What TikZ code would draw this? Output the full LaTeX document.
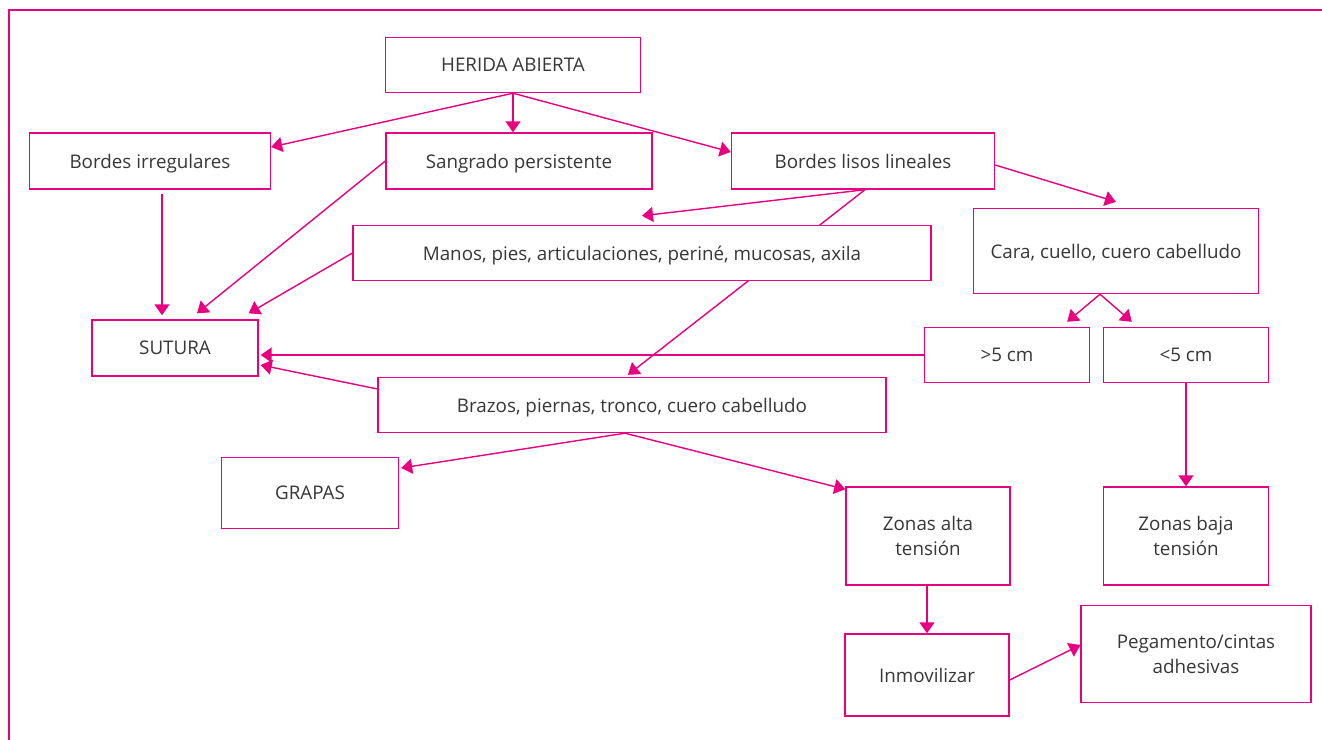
\documentclass[tikz,border=0pt]{standalone}
\usepackage{fontspec}
\setmainfont{Open Sans}
\usetikzlibrary{arrows.meta,backgrounds}

\definecolor{rosa}{RGB}{232,0,128}
\definecolor{texto}{RGB}{55,55,55}

\tikzset{
    box/.style={draw=rosa, fill=white, line width=0.8pt, text=texto, inner sep=0pt,
        align=center, font=\fontsize{10.7}{14}\selectfont},
    uno/.style={box, text depth=0pt},
    flecha/.style={draw=rosa, line width=0.8pt, -{Triangle[length=0.22cm,width=0.3cm]}}
}

\begin{document}
\begin{tikzpicture}[x=0.02cm, y=-0.02cm]
    \useasboundingbox (0,0) rectangle (1322,740);

    % Frame
    \draw[rosa, line width=0.8pt] (9,740) -- (9,10) -- (1322,10);

    % Boxes
    \node[uno, minimum width=5.1cm, minimum height=1.1cm] (herida) at (513,65) {HERIDA ABIERTA};
    \node[uno, minimum width=4.82cm, minimum height=1.12cm] (birreg) at (150,161) {Bordes irregulares};
    \node[uno, minimum width=5.32cm, minimum height=1.12cm] (sangrado) at (519,161) {Sangrado persistente};
    \node[uno, minimum width=5.26cm, minimum height=1.12cm] (blisos) at (863,161) {Bordes lisos lineales};
    \node[uno, minimum width=5.7cm, minimum height=1.7cm] (cara) at (1116,251) {Cara, cuello, cuero cabelludo};
    \node[uno, minimum width=11.56cm, minimum height=1.1cm] (manos) at (642,253) {Manos, pies, articulaciones, periné, mucosas, axila};
    \node[uno, minimum width=3.32cm, minimum height=1.12cm] (sutura) at (175,348) {SUTURA};
    \node[uno, minimum width=3.3cm, minimum height=1.1cm] (gt5) at (1007,355) {>5 cm};
    \node[uno, minimum width=3.3cm, minimum height=1.1cm] (lt5) at (1186,355) {<5 cm};
    \node[uno, minimum width=10.16cm, minimum height=1.1cm] (brazos) at (632,405) {Brazos, piernas, tronco, cuero cabelludo};
    \node[uno, minimum width=3.54cm, minimum height=1.42cm] (grapas) at (310,493) {GRAPAS};
    \node[box, minimum width=3.28cm, minimum height=1.96cm] (zalta) at (928,536) {Zonas alta\\tensión};
    \node[box, minimum width=3.3cm, minimum height=1.96cm] (zbaja) at (1186,536) {Zonas baja\\tensión};
    \node[uno, minimum width=3.28cm, minimum height=1.64cm] (inmov) at (927,675) {Inmovilizar};
    \node[box, minimum width=4.6cm, minimum height=1.94cm] (pegam) at (1196,654) {Pegamento/cintas\\adhesivas};

    % Arrows (behind the boxes)
    \begin{scope}[on background layer]
        \draw[flecha] (herida.south) -- ([yshift=0.28cm]birreg.east);
        \draw[flecha] (herida.south) -- (herida.south |- sangrado.north);
        \draw[flecha] (herida.south) -- ([yshift=0.18cm]blisos.west);
        \draw[flecha] ([xshift=0.24cm,yshift=-0.08cm]birreg.south) -- ([xshift=0.24cm,yshift=0.08cm]birreg.south |- sutura.north);
        \draw[flecha] (sangrado.west) -- ([xshift=0.44cm,yshift=0.12cm]sutura.north);
        \draw[flecha] (manos.west) -- ([xshift=-0.2cm,yshift=0.12cm]sutura.north east);
        \draw[flecha] ([yshift=-0.08cm]blisos.east) -- ([yshift=0.12cm]cara.north);
        \draw[flecha] ([xshift=0.04cm]blisos.south) -- ([yshift=0.18cm]manos.north);
        \draw[flecha] ([xshift=0.04cm]blisos.south) -- ([xshift=-0.08cm,yshift=0.04cm]brazos.north);
        \draw[flecha] ([xshift=-0.32cm]cara.south) -- ([xshift=-0.46cm,yshift=0.1cm]gt5.north east);
        \draw[flecha] ([xshift=-0.32cm]cara.south) -- ([xshift=0.58cm,yshift=0.1cm]lt5.north west);
        \draw[flecha] (gt5.west) -- ([xshift=0.04cm]gt5.west -| sutura.east);
        \draw[flecha] ([yshift=0.32cm]brazos.west) -- ([xshift=0.04cm,yshift=-0.34cm]sutura.east);
        \draw[flecha] ([xshift=-0.14cm]brazos.south) -- ([xshift=0.04cm,yshift=0.5cm]grapas.east);
        \draw[flecha] ([xshift=-0.14cm]brazos.south) -- ([yshift=-0.06cm]zalta.north west);
        \draw[flecha] (lt5.south) -- (zbaja.north);
        \draw[flecha] (inmov.north |- zalta.south) -- (inmov.north);
        \draw[flecha] ([yshift=-0.1cm]inmov.east) -- ([yshift=0.18cm]pegam.west);
    \end{scope}
\end{tikzpicture}
\end{document}
